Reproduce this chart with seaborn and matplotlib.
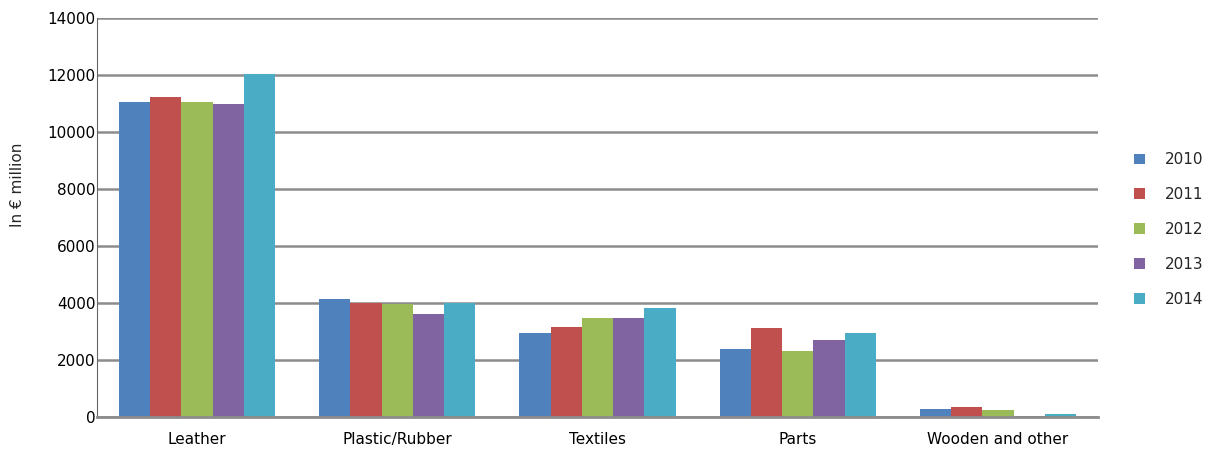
import matplotlib
matplotlib.use("Agg")
import matplotlib.pyplot as plt
import pandas as pd
import seaborn as sns

# values (in EUR million)
categories = ["Leather", "Plastic/Rubber", "Textiles", "Parts", "Wooden and other"]
years = ["2010", "2011", "2012", "2013", "2014"]
v2010 = [11050, 4140, 2950, 2390, 280]
v2011 = [11230, 4000, 3160, 3120, 350]
v2012 = [11050, 3970, 3470, 2320, 250]
v2013 = [10980, 3610, 3470, 2700, 20]
v2014 = [12040, 4000, 3830, 2950, 105]
colors = ["#4F81BD", "#C0504D", "#9BBB59", "#8064A2", "#4BACC6"]

rows = []
for year, vals in zip(years, [v2010, v2011, v2012, v2013, v2014]):
    for cat, v in zip(categories, vals):
        rows.append({"category": cat, "year": year, "value": v})
df = pd.DataFrame(rows)

sns.set_style("white")
plt.rcParams["font.family"] = ["DejaVu Sans"]

fig = plt.figure(figsize=(12.18, 4.5), dpi=100)
ax = fig.add_axes([0.0796, 0.0733, 0.9015 - 0.0796, 0.96 - 0.0733])

sns.barplot(data=df, x="category", y="value", hue="year", order=categories,
            hue_order=years, palette=colors, width=0.78, gap=0,
            saturation=1, ax=ax, errorbar=None, linewidth=0)

ax.set_ylim(0, 14000)
ax.set_xlim(-0.5, 4.5)
ax.set_yticks(range(0, 14001, 2000))
ax.yaxis.grid(True, color="#8c8c8c", linewidth=1.8)
ax.set_axisbelow(True)
ax.tick_params(axis="both", length=0, labelsize=11, colors="#000000", pad=1)
ax.tick_params(axis="x", pad=11)
ax.set_xlabel("")
ax.set_ylabel("")
fig.text(18 / 1218, 1 - 185 / 450, "In € million", rotation=90,
         ha="center", va="center", fontsize=11)

for s in ["top", "right"]:
    ax.spines[s].set_visible(False)
ax.spines["left"].set_color("#666666")
ax.spines["left"].set_linewidth(0.8)
ax.spines["bottom"].set_color("#8c8c8c")
ax.spines["bottom"].set_linewidth(2)

handles, labels = ax.get_legend_handles_labels()
ax.legend(handles, labels, loc="center left", bbox_to_anchor=(0.92, 0.49),
          bbox_transform=fig.transFigure, frameon=False, fontsize=11,
          handlelength=0.7, handleheight=0.7, labelspacing=1.3, handletextpad=1.3)

fig.savefig("out.png", dpi=100)
